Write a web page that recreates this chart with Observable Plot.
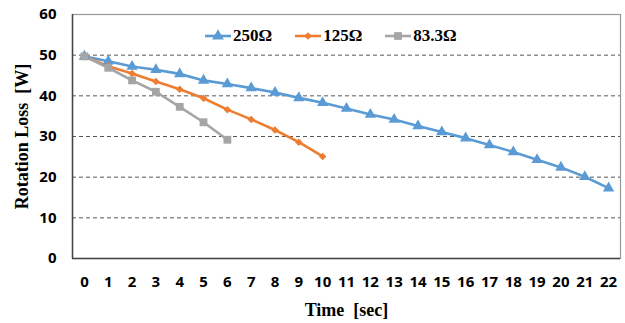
<!DOCTYPE html>
<html><head><meta charset="utf-8">
<script src="https://cdn.jsdelivr.net/npm/d3@7"></script>
<script src="https://cdn.jsdelivr.net/npm/@observablehq/plot@0.6"></script>
<style>
body{margin:0;background:#fff;}
#wrap{position:relative;width:625px;height:323px;}
#legend{position:absolute;top:26px;left:204px;display:flex;gap:22px;font-family:"Liberation Serif",serif;font-weight:bold;font-size:17px;color:#000;align-items:center;}
#legend span{display:flex;align-items:center;}
#legend svg{margin-right:1px;}
</style></head>
<body><div id="wrap"><div id="chart"></div><div id="legend"></div></div>
<script>
const time = d3.range(0, 23);
const series = ["250Ω", "125Ω", "83.3Ω"];
const colors = ["#5B9BD5", "#ED7D31", "#A5A5A5"];
const symbols = ["triangle", "diamond2", "square"];
const loss250 = [49.7,48.5,47.2,46.4,45.4,43.8,42.9,41.9,40.8,39.5,38.3,36.9,35.4,34.2,32.6,31.1,29.6,27.9,26.2,24.3,22.4,20.1,17.3];
const loss125 = [49.7,47.3,45.5,43.5,41.6,39.4,36.6,34.2,31.6,28.6,25.1];
const loss83 = [49.7,46.9,43.8,41.0,37.3,33.5,29.2];
const yTicks = [0,10,20,30,40,50,60];
const xTicks = time;

const values = [loss250, loss125, loss83];
const data = [];
values.forEach((arr, i) => arr.forEach((v, t) => data.push({series: series[i], t, v})));

const chart = Plot.plot({
  width: 625, height: 323,
  marginLeft: 72, marginRight: 5, marginTop: 14, marginBottom: 65,
  style: {fontFamily: "'Open Sans', sans-serif", fontWeight: "bold", fontSize: "15px", color: "#000", background: "#fff"},
  x: {domain: [-0.5, 22.5], ticks: xTicks, tickSize: 0, tickPadding: 18, label: null},
  y: {domain: [0, 60], ticks: yTicks, tickSize: 0, tickPadding: 16, label: null},
  color: {domain: series, range: colors},
  symbol: {domain: series, range: symbols},
  marks: [
    Plot.ruleY(yTicks.filter(d => d > 0 && d < 60), {stroke: "#555", strokeWidth: 1, strokeDasharray: "4,3"}),
    Plot.frame({stroke: "#999", strokeWidth: 1.2}),
    Plot.ruleY([0], {stroke: "#444", strokeWidth: 1.5}),
    Plot.ruleX([-0.5], {stroke: "#444", strokeWidth: 1.5}),
    Plot.line(data, {x: "t", y: "v", z: "series", stroke: "series", strokeWidth: 2.6}),
    Plot.dot(data.filter(d => d.series === "250Ω"), {x: "t", y: "v", symbol: "series", fill: "series", r: 4.2}),
    Plot.dot(data.filter(d => d.series === "125Ω"), {x: "t", y: "v", symbol: "series", fill: "series", r: 3.4}),
    Plot.dot(data.filter(d => d.series === "83.3Ω"), {x: "t", y: "v", symbol: "series", fill: "series", r: 4.4}),
    Plot.text(["Rotation Loss  [W]"], {frameAnchor: "left", textAnchor: "middle", dx: -50, rotate: -90, fontFamily: "'Liberation Serif', serif", fontSize: 18, fontWeight: "bold", fill: "#000"}),
    Plot.text(["Time  [sec]"], {frameAnchor: "bottom", dy: 57, fontFamily: "'Liberation Serif', serif", fontSize: 18, fontWeight: "bold", fill: "#000"})
  ]
});
document.getElementById("chart").appendChild(chart);

const leg = document.getElementById("legend");
const symPaths = {triangle: d3.symbolTriangle, diamond2: d3.symbolDiamond2, square: d3.symbolSquare};
const symSizes = [60, 36, 60];
series.forEach((s, i) => {
  const span = document.createElement("span");
  const ns = "http://www.w3.org/2000/svg";
  const svg = document.createElementNS(ns, "svg");
  svg.setAttribute("width", 28); svg.setAttribute("height", 16);
  const line = document.createElementNS(ns, "line");
  line.setAttribute("x1", 1); line.setAttribute("x2", 27); line.setAttribute("y1", 8); line.setAttribute("y2", 8);
  line.setAttribute("stroke", colors[i]); line.setAttribute("stroke-width", 2.6);
  svg.appendChild(line);
  const p = document.createElementNS(ns, "path");
  p.setAttribute("d", d3.symbol(symPaths[symbols[i]], symSizes[i])());
  p.setAttribute("transform", "translate(14,8)");
  p.setAttribute("fill", colors[i]);
  svg.appendChild(p);
  span.appendChild(svg);
  span.appendChild(document.createTextNode(s));
  leg.appendChild(span);
});
</script></body></html>
